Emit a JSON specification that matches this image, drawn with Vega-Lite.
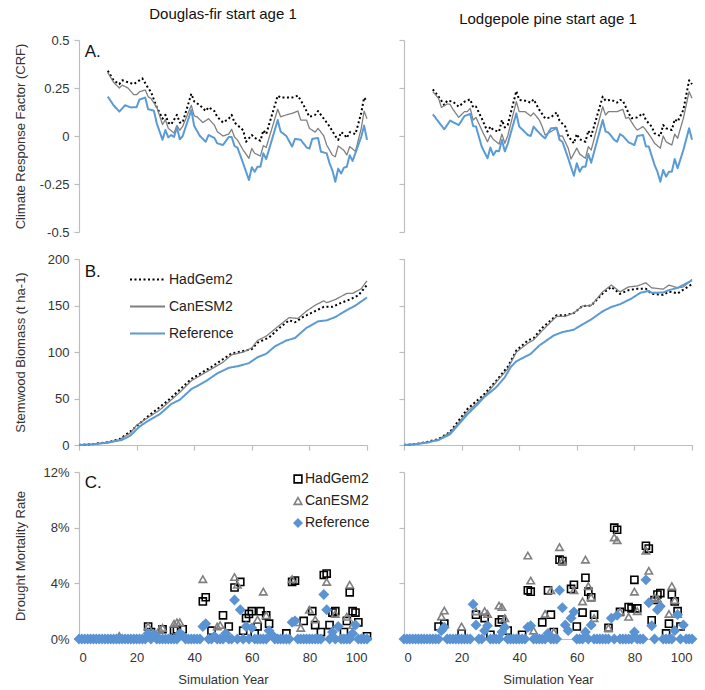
{
"$schema": "https://vega.github.io/schema/vega-lite/v6.json",
"background": "white",
"padding": {"left": 13, "top": 7, "right": 0, "bottom": 0},
"config": {
  "font": "Liberation Sans",
  "view": {"stroke": null},
  "axis": {"grid": false, "domainColor": "#bdbdbd", "tickColor": "#bdbdbd", "domainWidth": 1.2, "tickWidth": 1.2, "tickSize": 5, "labelFontSize": 13, "labelColor": "#333", "titleFontSize": 13, "titleFontWeight": "normal", "titleColor": "#333", "labelPadding": 5},
  "title": {"fontSize": 15, "fontWeight": "normal", "color": "#111", "offset": 12}
},
"datasets": {
"crf": [
{"sp":"DF","m":"HadGem2","yr":10,"v":0.34},{"sp":"DF","m":"HadGem2","yr":12,"v":0.29},{"sp":"DF","m":"HadGem2","yr":14,"v":0.27},{"sp":"DF","m":"HadGem2","yr":15,"v":0.29},{"sp":"DF","m":"HadGem2","yr":17,"v":0.28},{"sp":"DF","m":"HadGem2","yr":19,"v":0.27},{"sp":"DF","m":"HadGem2","yr":21,"v":0.29},{"sp":"DF","m":"HadGem2","yr":22,"v":0.3},{"sp":"DF","m":"HadGem2","yr":24,"v":0.25},{"sp":"DF","m":"HadGem2","yr":25,"v":0.23},{"sp":"DF","m":"HadGem2","yr":27,"v":0.15},{"sp":"DF","m":"HadGem2","yr":29,"v":0.09},{"sp":"DF","m":"HadGem2","yr":30,"v":0.11},{"sp":"DF","m":"HadGem2","yr":31,"v":0.07},{"sp":"DF","m":"HadGem2","yr":32,"v":0.06},{"sp":"DF","m":"HadGem2","yr":34,"v":0.11},{"sp":"DF","m":"HadGem2","yr":35,"v":0.07},{"sp":"DF","m":"HadGem2","yr":36,"v":0.07},{"sp":"DF","m":"HadGem2","yr":39,"v":0.22},{"sp":"DF","m":"HadGem2","yr":40,"v":0.18},{"sp":"DF","m":"HadGem2","yr":42,"v":0.16},{"sp":"DF","m":"HadGem2","yr":44,"v":0.13},{"sp":"DF","m":"HadGem2","yr":45,"v":0.15},{"sp":"DF","m":"HadGem2","yr":47,"v":0.13},{"sp":"DF","m":"HadGem2","yr":48,"v":0.1},{"sp":"DF","m":"HadGem2","yr":50,"v":0.07},{"sp":"DF","m":"HadGem2","yr":52,"v":0.09},{"sp":"DF","m":"HadGem2","yr":53,"v":0.11},{"sp":"DF","m":"HadGem2","yr":54,"v":0.07},{"sp":"DF","m":"HadGem2","yr":57,"v":0.03},{"sp":"DF","m":"HadGem2","yr":58,"v":-0.03},{"sp":"DF","m":"HadGem2","yr":60,"v":0.005},{"sp":"DF","m":"HadGem2","yr":61,"v":-0.01},{"sp":"DF","m":"HadGem2","yr":63,"v":-0.025},{"sp":"DF","m":"HadGem2","yr":64,"v":0.03},{"sp":"DF","m":"HadGem2","yr":65,"v":0.01},{"sp":"DF","m":"HadGem2","yr":69,"v":0.21},{"sp":"DF","m":"HadGem2","yr":70,"v":0.2},{"sp":"DF","m":"HadGem2","yr":72,"v":0.2},{"sp":"DF","m":"HadGem2","yr":74,"v":0.2},{"sp":"DF","m":"HadGem2","yr":76,"v":0.21},{"sp":"DF","m":"HadGem2","yr":78,"v":0.16},{"sp":"DF","m":"HadGem2","yr":80,"v":0.1},{"sp":"DF","m":"HadGem2","yr":82,"v":0.11},{"sp":"DF","m":"HadGem2","yr":83,"v":0.13},{"sp":"DF","m":"HadGem2","yr":85,"v":0.09},{"sp":"DF","m":"HadGem2","yr":87,"v":0.05},{"sp":"DF","m":"HadGem2","yr":89,"v":0.0},{"sp":"DF","m":"HadGem2","yr":90,"v":-0.02},{"sp":"DF","m":"HadGem2","yr":91,"v":0.02},{"sp":"DF","m":"HadGem2","yr":92,"v":0.01},{"sp":"DF","m":"HadGem2","yr":93,"v":-0.01},{"sp":"DF","m":"HadGem2","yr":94,"v":0.02},{"sp":"DF","m":"HadGem2","yr":96,"v":0.01},{"sp":"DF","m":"HadGem2","yr":98,"v":0.12},{"sp":"DF","m":"HadGem2","yr":99,"v":0.2},{"sp":"DF","m":"HadGem2","yr":100,"v":0.18},
{"sp":"DF","m":"CanESM2","yr":10,"v":0.33},{"sp":"DF","m":"CanESM2","yr":12,"v":0.28},{"sp":"DF","m":"CanESM2","yr":14,"v":0.25},{"sp":"DF","m":"CanESM2","yr":15,"v":0.265},{"sp":"DF","m":"CanESM2","yr":17,"v":0.25},{"sp":"DF","m":"CanESM2","yr":19,"v":0.215},{"sp":"DF","m":"CanESM2","yr":20,"v":0.215},{"sp":"DF","m":"CanESM2","yr":21,"v":0.23},{"sp":"DF","m":"CanESM2","yr":23,"v":0.24},{"sp":"DF","m":"CanESM2","yr":24,"v":0.205},{"sp":"DF","m":"CanESM2","yr":25,"v":0.195},{"sp":"DF","m":"CanESM2","yr":27,"v":0.15},{"sp":"DF","m":"CanESM2","yr":29,"v":0.06},{"sp":"DF","m":"CanESM2","yr":30,"v":0.085},{"sp":"DF","m":"CanESM2","yr":31,"v":0.04},{"sp":"DF","m":"CanESM2","yr":33,"v":0.015},{"sp":"DF","m":"CanESM2","yr":34,"v":0.055},{"sp":"DF","m":"CanESM2","yr":35,"v":0.03},{"sp":"DF","m":"CanESM2","yr":36,"v":0.05},{"sp":"DF","m":"CanESM2","yr":39,"v":0.16},{"sp":"DF","m":"CanESM2","yr":40,"v":0.105},{"sp":"DF","m":"CanESM2","yr":41,"v":0.1},{"sp":"DF","m":"CanESM2","yr":43,"v":0.07},{"sp":"DF","m":"CanESM2","yr":44,"v":0.08},{"sp":"DF","m":"CanESM2","yr":45,"v":0.09},{"sp":"DF","m":"CanESM2","yr":47,"v":0.057},{"sp":"DF","m":"CanESM2","yr":48,"v":0.023},{"sp":"DF","m":"CanESM2","yr":50,"v":0.0},{"sp":"DF","m":"CanESM2","yr":52,"v":0.01},{"sp":"DF","m":"CanESM2","yr":53,"v":0.035},{"sp":"DF","m":"CanESM2","yr":54,"v":-0.005},{"sp":"DF","m":"CanESM2","yr":55,"v":-0.02},{"sp":"DF","m":"CanESM2","yr":57,"v":-0.073},{"sp":"DF","m":"CanESM2","yr":59,"v":-0.116},{"sp":"DF","m":"CanESM2","yr":60,"v":-0.065},{"sp":"DF","m":"CanESM2","yr":61,"v":-0.09},{"sp":"DF","m":"CanESM2","yr":63,"v":-0.104},{"sp":"DF","m":"CanESM2","yr":64,"v":-0.05},{"sp":"DF","m":"CanESM2","yr":65,"v":-0.06},{"sp":"DF","m":"CanESM2","yr":69,"v":0.14},{"sp":"DF","m":"CanESM2","yr":70,"v":0.1},{"sp":"DF","m":"CanESM2","yr":72,"v":0.11},{"sp":"DF","m":"CanESM2","yr":74,"v":0.118},{"sp":"DF","m":"CanESM2","yr":76,"v":0.13},{"sp":"DF","m":"CanESM2","yr":77,"v":0.083},{"sp":"DF","m":"CanESM2","yr":79,"v":0.083},{"sp":"DF","m":"CanESM2","yr":80,"v":0.04},{"sp":"DF","m":"CanESM2","yr":82,"v":0.02},{"sp":"DF","m":"CanESM2","yr":83,"v":0.04},{"sp":"DF","m":"CanESM2","yr":85,"v":0.0},{"sp":"DF","m":"CanESM2","yr":86,"v":-0.047},{"sp":"DF","m":"CanESM2","yr":88,"v":-0.1},{"sp":"DF","m":"CanESM2","yr":89,"v":-0.108},{"sp":"DF","m":"CanESM2","yr":90,"v":-0.052},{"sp":"DF","m":"CanESM2","yr":92,"v":-0.075},{"sp":"DF","m":"CanESM2","yr":93,"v":-0.099},{"sp":"DF","m":"CanESM2","yr":94,"v":-0.055},{"sp":"DF","m":"CanESM2","yr":96,"v":-0.08},{"sp":"DF","m":"CanESM2","yr":98,"v":0.04},{"sp":"DF","m":"CanESM2","yr":99,"v":0.13},{"sp":"DF","m":"CanESM2","yr":100,"v":0.09},
{"sp":"DF","m":"Reference","yr":10,"v":0.205},{"sp":"DF","m":"Reference","yr":12,"v":0.16},{"sp":"DF","m":"Reference","yr":14,"v":0.127},{"sp":"DF","m":"Reference","yr":16,"v":0.16},{"sp":"DF","m":"Reference","yr":18,"v":0.149},{"sp":"DF","m":"Reference","yr":20,"v":0.15},{"sp":"DF","m":"Reference","yr":21,"v":0.19},{"sp":"DF","m":"Reference","yr":23,"v":0.2},{"sp":"DF","m":"Reference","yr":24,"v":0.139},{"sp":"DF","m":"Reference","yr":26,"v":0.132},{"sp":"DF","m":"Reference","yr":27,"v":0.066},{"sp":"DF","m":"Reference","yr":29,"v":-0.02},{"sp":"DF","m":"Reference","yr":30,"v":0.031},{"sp":"DF","m":"Reference","yr":31,"v":-0.007},{"sp":"DF","m":"Reference","yr":32,"v":0.005},{"sp":"DF","m":"Reference","yr":33,"v":-0.005},{"sp":"DF","m":"Reference","yr":34,"v":0.045},{"sp":"DF","m":"Reference","yr":35,"v":-0.017},{"sp":"DF","m":"Reference","yr":36,"v":0.0},{"sp":"DF","m":"Reference","yr":39,"v":0.135},{"sp":"DF","m":"Reference","yr":40,"v":0.052},{"sp":"DF","m":"Reference","yr":42,"v":0.0},{"sp":"DF","m":"Reference","yr":44,"v":-0.03},{"sp":"DF","m":"Reference","yr":45,"v":0.005},{"sp":"DF","m":"Reference","yr":47,"v":-0.01},{"sp":"DF","m":"Reference","yr":48,"v":-0.038},{"sp":"DF","m":"Reference","yr":50,"v":-0.047},{"sp":"DF","m":"Reference","yr":52,"v":-0.005},{"sp":"DF","m":"Reference","yr":53,"v":-0.005},{"sp":"DF","m":"Reference","yr":54,"v":-0.052},{"sp":"DF","m":"Reference","yr":55,"v":-0.06},{"sp":"DF","m":"Reference","yr":57,"v":-0.142},{"sp":"DF","m":"Reference","yr":59,"v":-0.229},{"sp":"DF","m":"Reference","yr":60,"v":-0.163},{"sp":"DF","m":"Reference","yr":61,"v":-0.186},{"sp":"DF","m":"Reference","yr":62,"v":-0.16},{"sp":"DF","m":"Reference","yr":63,"v":-0.16},{"sp":"DF","m":"Reference","yr":64,"v":-0.09},{"sp":"DF","m":"Reference","yr":65,"v":-0.12},{"sp":"DF","m":"Reference","yr":69,"v":0.083},{"sp":"DF","m":"Reference","yr":70,"v":0.023},{"sp":"DF","m":"Reference","yr":72,"v":0.0},{"sp":"DF","m":"Reference","yr":74,"v":-0.055},{"sp":"DF","m":"Reference","yr":75,"v":-0.015},{"sp":"DF","m":"Reference","yr":77,"v":-0.02},{"sp":"DF","m":"Reference","yr":79,"v":-0.059},{"sp":"DF","m":"Reference","yr":80,"v":-0.066},{"sp":"DF","m":"Reference","yr":81,"v":-0.015},{"sp":"DF","m":"Reference","yr":83,"v":-0.01},{"sp":"DF","m":"Reference","yr":84,"v":-0.082},{"sp":"DF","m":"Reference","yr":86,"v":-0.09},{"sp":"DF","m":"Reference","yr":87,"v":-0.142},{"sp":"DF","m":"Reference","yr":88,"v":-0.18},{"sp":"DF","m":"Reference","yr":89,"v":-0.238},{"sp":"DF","m":"Reference","yr":90,"v":-0.17},{"sp":"DF","m":"Reference","yr":91,"v":-0.195},{"sp":"DF","m":"Reference","yr":92,"v":-0.165},{"sp":"DF","m":"Reference","yr":93,"v":-0.16},{"sp":"DF","m":"Reference","yr":94,"v":-0.1},{"sp":"DF","m":"Reference","yr":95,"v":-0.13},{"sp":"DF","m":"Reference","yr":98,"v":-0.004},{"sp":"DF","m":"Reference","yr":99,"v":0.054},{"sp":"DF","m":"Reference","yr":100,"v":-0.02},
{"sp":"LP","m":"HadGem2","yr":10,"v":0.243},{"sp":"LP","m":"HadGem2","yr":12,"v":0.205},{"sp":"LP","m":"HadGem2","yr":14,"v":0.161},{"sp":"LP","m":"HadGem2","yr":15,"v":0.184},{"sp":"LP","m":"HadGem2","yr":17,"v":0.179},{"sp":"LP","m":"HadGem2","yr":19,"v":0.153},{"sp":"LP","m":"HadGem2","yr":21,"v":0.179},{"sp":"LP","m":"HadGem2","yr":23,"v":0.191},{"sp":"LP","m":"HadGem2","yr":24,"v":0.149},{"sp":"LP","m":"HadGem2","yr":25,"v":0.153},{"sp":"LP","m":"HadGem2","yr":27,"v":0.092},{"sp":"LP","m":"HadGem2","yr":29,"v":0.023},{"sp":"LP","m":"HadGem2","yr":30,"v":0.049},{"sp":"LP","m":"HadGem2","yr":31,"v":0.031},{"sp":"LP","m":"HadGem2","yr":33,"v":0.023},{"sp":"LP","m":"HadGem2","yr":34,"v":0.083},{"sp":"LP","m":"HadGem2","yr":35,"v":0.045},{"sp":"LP","m":"HadGem2","yr":36,"v":0.057},{"sp":"LP","m":"HadGem2","yr":39,"v":0.234},{"sp":"LP","m":"HadGem2","yr":40,"v":0.188},{"sp":"LP","m":"HadGem2","yr":42,"v":0.184},{"sp":"LP","m":"HadGem2","yr":44,"v":0.174},{"sp":"LP","m":"HadGem2","yr":45,"v":0.191},{"sp":"LP","m":"HadGem2","yr":47,"v":0.136},{"sp":"LP","m":"HadGem2","yr":49,"v":0.092},{"sp":"LP","m":"HadGem2","yr":51,"v":0.097},{"sp":"LP","m":"HadGem2","yr":53,"v":0.123},{"sp":"LP","m":"HadGem2","yr":54,"v":0.08},{"sp":"LP","m":"HadGem2","yr":56,"v":0.049},{"sp":"LP","m":"HadGem2","yr":57,"v":0.0},{"sp":"LP","m":"HadGem2","yr":59,"v":-0.038},{"sp":"LP","m":"HadGem2","yr":60,"v":0.01},{"sp":"LP","m":"HadGem2","yr":61,"v":-0.017},{"sp":"LP","m":"HadGem2","yr":63,"v":-0.03},{"sp":"LP","m":"HadGem2","yr":64,"v":0.028},{"sp":"LP","m":"HadGem2","yr":65,"v":0.0},{"sp":"LP","m":"HadGem2","yr":69,"v":0.205},{"sp":"LP","m":"HadGem2","yr":70,"v":0.184},{"sp":"LP","m":"HadGem2","yr":72,"v":0.188},{"sp":"LP","m":"HadGem2","yr":74,"v":0.174},{"sp":"LP","m":"HadGem2","yr":75,"v":0.188},{"sp":"LP","m":"HadGem2","yr":76,"v":0.184},{"sp":"LP","m":"HadGem2","yr":78,"v":0.118},{"sp":"LP","m":"HadGem2","yr":79,"v":0.092},{"sp":"LP","m":"HadGem2","yr":81,"v":0.097},{"sp":"LP","m":"HadGem2","yr":83,"v":0.118},{"sp":"LP","m":"HadGem2","yr":84,"v":0.083},{"sp":"LP","m":"HadGem2","yr":86,"v":0.049},{"sp":"LP","m":"HadGem2","yr":87,"v":0.014},{"sp":"LP","m":"HadGem2","yr":89,"v":0.0},{"sp":"LP","m":"HadGem2","yr":90,"v":0.057},{"sp":"LP","m":"HadGem2","yr":91,"v":0.04},{"sp":"LP","m":"HadGem2","yr":93,"v":0.031},{"sp":"LP","m":"HadGem2","yr":94,"v":0.087},{"sp":"LP","m":"HadGem2","yr":95,"v":0.075},{"sp":"LP","m":"HadGem2","yr":97,"v":0.136},{"sp":"LP","m":"HadGem2","yr":99,"v":0.29},{"sp":"LP","m":"HadGem2","yr":100,"v":0.27},
{"sp":"LP","m":"CanESM2","yr":10,"v":0.231},{"sp":"LP","m":"CanESM2","yr":12,"v":0.196},{"sp":"LP","m":"CanESM2","yr":13,"v":0.149},{"sp":"LP","m":"CanESM2","yr":15,"v":0.167},{"sp":"LP","m":"CanESM2","yr":16,"v":0.165},{"sp":"LP","m":"CanESM2","yr":17,"v":0.139},{"sp":"LP","m":"CanESM2","yr":19,"v":0.097},{"sp":"LP","m":"CanESM2","yr":21,"v":0.127},{"sp":"LP","m":"CanESM2","yr":22,"v":0.127},{"sp":"LP","m":"CanESM2","yr":23,"v":0.144},{"sp":"LP","m":"CanESM2","yr":24,"v":0.083},{"sp":"LP","m":"CanESM2","yr":25,"v":0.097},{"sp":"LP","m":"CanESM2","yr":27,"v":0.031},{"sp":"LP","m":"CanESM2","yr":29,"v":-0.03},{"sp":"LP","m":"CanESM2","yr":30,"v":0.005},{"sp":"LP","m":"CanESM2","yr":31,"v":-0.017},{"sp":"LP","m":"CanESM2","yr":33,"v":-0.042},{"sp":"LP","m":"CanESM2","yr":34,"v":0.01},{"sp":"LP","m":"CanESM2","yr":35,"v":-0.038},{"sp":"LP","m":"CanESM2","yr":36,"v":0.0},{"sp":"LP","m":"CanESM2","yr":39,"v":0.179},{"sp":"LP","m":"CanESM2","yr":40,"v":0.127},{"sp":"LP","m":"CanESM2","yr":42,"v":0.127},{"sp":"LP","m":"CanESM2","yr":44,"v":0.104},{"sp":"LP","m":"CanESM2","yr":45,"v":0.12},{"sp":"LP","m":"CanESM2","yr":47,"v":0.083},{"sp":"LP","m":"CanESM2","yr":48,"v":0.049},{"sp":"LP","m":"CanESM2","yr":49,"v":0.005},{"sp":"LP","m":"CanESM2","yr":51,"v":0.023},{"sp":"LP","m":"CanESM2","yr":53,"v":0.04},{"sp":"LP","m":"CanESM2","yr":54,"v":0.0},{"sp":"LP","m":"CanESM2","yr":55,"v":0.0},{"sp":"LP","m":"CanESM2","yr":57,"v":-0.063},{"sp":"LP","m":"CanESM2","yr":58,"v":-0.12},{"sp":"LP","m":"CanESM2","yr":60,"v":-0.063},{"sp":"LP","m":"CanESM2","yr":61,"v":-0.094},{"sp":"LP","m":"CanESM2","yr":63,"v":-0.116},{"sp":"LP","m":"CanESM2","yr":64,"v":-0.055},{"sp":"LP","m":"CanESM2","yr":65,"v":-0.073},{"sp":"LP","m":"CanESM2","yr":69,"v":0.153},{"sp":"LP","m":"CanESM2","yr":70,"v":0.109},{"sp":"LP","m":"CanESM2","yr":71,"v":0.127},{"sp":"LP","m":"CanESM2","yr":74,"v":0.127},{"sp":"LP","m":"CanESM2","yr":76,"v":0.139},{"sp":"LP","m":"CanESM2","yr":77,"v":0.092},{"sp":"LP","m":"CanESM2","yr":78,"v":0.097},{"sp":"LP","m":"CanESM2","yr":80,"v":0.049},{"sp":"LP","m":"CanESM2","yr":81,"v":0.031},{"sp":"LP","m":"CanESM2","yr":83,"v":0.049},{"sp":"LP","m":"CanESM2","yr":84,"v":0.031},{"sp":"LP","m":"CanESM2","yr":86,"v":-0.012},{"sp":"LP","m":"CanESM2","yr":87,"v":-0.038},{"sp":"LP","m":"CanESM2","yr":89,"v":-0.063},{"sp":"LP","m":"CanESM2","yr":90,"v":0.0},{"sp":"LP","m":"CanESM2","yr":91,"v":-0.03},{"sp":"LP","m":"CanESM2","yr":93,"v":-0.047},{"sp":"LP","m":"CanESM2","yr":94,"v":0.01},{"sp":"LP","m":"CanESM2","yr":95,"v":-0.012},{"sp":"LP","m":"CanESM2","yr":97,"v":0.092},{"sp":"LP","m":"CanESM2","yr":99,"v":0.231},{"sp":"LP","m":"CanESM2","yr":100,"v":0.196},
{"sp":"LP","m":"Reference","yr":10,"v":0.113},{"sp":"LP","m":"Reference","yr":14,"v":0.035},{"sp":"LP","m":"Reference","yr":16,"v":0.08},{"sp":"LP","m":"Reference","yr":19,"v":0.057},{"sp":"LP","m":"Reference","yr":21,"v":0.104},{"sp":"LP","m":"Reference","yr":23,"v":0.115},{"sp":"LP","m":"Reference","yr":24,"v":0.052},{"sp":"LP","m":"Reference","yr":25,"v":0.049},{"sp":"LP","m":"Reference","yr":27,"v":-0.056},{"sp":"LP","m":"Reference","yr":29,"v":-0.116},{"sp":"LP","m":"Reference","yr":30,"v":-0.06},{"sp":"LP","m":"Reference","yr":31,"v":-0.1},{"sp":"LP","m":"Reference","yr":32,"v":-0.077},{"sp":"LP","m":"Reference","yr":33,"v":-0.08},{"sp":"LP","m":"Reference","yr":34,"v":-0.021},{"sp":"LP","m":"Reference","yr":35,"v":-0.08},{"sp":"LP","m":"Reference","yr":36,"v":-0.042},{"sp":"LP","m":"Reference","yr":39,"v":0.118},{"sp":"LP","m":"Reference","yr":40,"v":0.049},{"sp":"LP","m":"Reference","yr":41,"v":0.035},{"sp":"LP","m":"Reference","yr":43,"v":0.005},{"sp":"LP","m":"Reference","yr":44,"v":0.0},{"sp":"LP","m":"Reference","yr":45,"v":0.049},{"sp":"LP","m":"Reference","yr":46,"v":0.031},{"sp":"LP","m":"Reference","yr":48,"v":0.0},{"sp":"LP","m":"Reference","yr":49,"v":-0.012},{"sp":"LP","m":"Reference","yr":51,"v":0.04},{"sp":"LP","m":"Reference","yr":53,"v":0.043},{"sp":"LP","m":"Reference","yr":54,"v":-0.02},{"sp":"LP","m":"Reference","yr":55,"v":-0.03},{"sp":"LP","m":"Reference","yr":57,"v":-0.116},{"sp":"LP","m":"Reference","yr":59,"v":-0.207},{"sp":"LP","m":"Reference","yr":60,"v":-0.142},{"sp":"LP","m":"Reference","yr":61,"v":-0.186},{"sp":"LP","m":"Reference","yr":62,"v":-0.16},{"sp":"LP","m":"Reference","yr":63,"v":-0.16},{"sp":"LP","m":"Reference","yr":64,"v":-0.094},{"sp":"LP","m":"Reference","yr":65,"v":-0.139},{"sp":"LP","m":"Reference","yr":69,"v":0.083},{"sp":"LP","m":"Reference","yr":70,"v":0.023},{"sp":"LP","m":"Reference","yr":71,"v":0.018},{"sp":"LP","m":"Reference","yr":73,"v":-0.02},{"sp":"LP","m":"Reference","yr":74,"v":-0.03},{"sp":"LP","m":"Reference","yr":75,"v":0.01},{"sp":"LP","m":"Reference","yr":76,"v":0.0},{"sp":"LP","m":"Reference","yr":78,"v":-0.033},{"sp":"LP","m":"Reference","yr":80,"v":-0.047},{"sp":"LP","m":"Reference","yr":81,"v":0.0},{"sp":"LP","m":"Reference","yr":83,"v":0.005},{"sp":"LP","m":"Reference","yr":84,"v":-0.055},{"sp":"LP","m":"Reference","yr":85,"v":-0.055},{"sp":"LP","m":"Reference","yr":87,"v":-0.151},{"sp":"LP","m":"Reference","yr":88,"v":-0.186},{"sp":"LP","m":"Reference","yr":89,"v":-0.238},{"sp":"LP","m":"Reference","yr":90,"v":-0.177},{"sp":"LP","m":"Reference","yr":91,"v":-0.212},{"sp":"LP","m":"Reference","yr":92,"v":-0.186},{"sp":"LP","m":"Reference","yr":93,"v":-0.186},{"sp":"LP","m":"Reference","yr":94,"v":-0.12},{"sp":"LP","m":"Reference","yr":95,"v":-0.168},{"sp":"LP","m":"Reference","yr":97,"v":-0.073},{"sp":"LP","m":"Reference","yr":99,"v":0.04},{"sp":"LP","m":"Reference","yr":100,"v":-0.02}
],
"bio": [
{"sp":"DF","m":"HadGem2","yr":0,"v":0},{"sp":"DF","m":"HadGem2","yr":5,"v":1},{"sp":"DF","m":"HadGem2","yr":10,"v":3},{"sp":"DF","m":"HadGem2","yr":14,"v":6},{"sp":"DF","m":"HadGem2","yr":18,"v":15},{"sp":"DF","m":"HadGem2","yr":24,"v":31},{"sp":"DF","m":"HadGem2","yr":31,"v":48},{"sp":"DF","m":"HadGem2","yr":39,"v":71},{"sp":"DF","m":"HadGem2","yr":46,"v":84},{"sp":"DF","m":"HadGem2","yr":53,"v":98.5},{"sp":"DF","m":"HadGem2","yr":57,"v":101},{"sp":"DF","m":"HadGem2","yr":60,"v":103},{"sp":"DF","m":"HadGem2","yr":62,"v":110},{"sp":"DF","m":"HadGem2","yr":66,"v":115.6},{"sp":"DF","m":"HadGem2","yr":70,"v":127},{"sp":"DF","m":"HadGem2","yr":73,"v":134},{"sp":"DF","m":"HadGem2","yr":75,"v":132},{"sp":"DF","m":"HadGem2","yr":78,"v":138},{"sp":"DF","m":"HadGem2","yr":82,"v":144},{"sp":"DF","m":"HadGem2","yr":85,"v":148.6},{"sp":"DF","m":"HadGem2","yr":88,"v":148.6},{"sp":"DF","m":"HadGem2","yr":91,"v":152.8},{"sp":"DF","m":"HadGem2","yr":94,"v":156.4},{"sp":"DF","m":"HadGem2","yr":97,"v":161},{"sp":"DF","m":"HadGem2","yr":100,"v":172},
{"sp":"DF","m":"CanESM2","yr":0,"v":0},{"sp":"DF","m":"CanESM2","yr":5,"v":0.9},{"sp":"DF","m":"CanESM2","yr":10,"v":3},{"sp":"DF","m":"CanESM2","yr":14,"v":5.5},{"sp":"DF","m":"CanESM2","yr":18,"v":13.3},{"sp":"DF","m":"CanESM2","yr":20,"v":21.3},{"sp":"DF","m":"CanESM2","yr":24,"v":29.5},{"sp":"DF","m":"CanESM2","yr":28,"v":37.5},{"sp":"DF","m":"CanESM2","yr":31,"v":45.7},{"sp":"DF","m":"CanESM2","yr":35,"v":56.6},{"sp":"DF","m":"CanESM2","yr":39,"v":69},{"sp":"DF","m":"CanESM2","yr":43,"v":76.4},{"sp":"DF","m":"CanESM2","yr":46,"v":81.8},{"sp":"DF","m":"CanESM2","yr":50,"v":89},{"sp":"DF","m":"CanESM2","yr":53,"v":97},{"sp":"DF","m":"CanESM2","yr":57,"v":99.8},{"sp":"DF","m":"CanESM2","yr":60,"v":104.5},{"sp":"DF","m":"CanESM2","yr":62,"v":112.4},{"sp":"DF","m":"CanESM2","yr":65,"v":117},{"sp":"DF","m":"CanESM2","yr":70,"v":129.7},{"sp":"DF","m":"CanESM2","yr":73,"v":137},{"sp":"DF","m":"CanESM2","yr":76,"v":136},{"sp":"DF","m":"CanESM2","yr":79,"v":144},{"sp":"DF","m":"CanESM2","yr":82,"v":150.3},{"sp":"DF","m":"CanESM2","yr":85,"v":155},{"sp":"DF","m":"CanESM2","yr":86,"v":153},{"sp":"DF","m":"CanESM2","yr":89,"v":156.4},{"sp":"DF","m":"CanESM2","yr":93,"v":163},{"sp":"DF","m":"CanESM2","yr":95,"v":163},{"sp":"DF","m":"CanESM2","yr":98,"v":168},{"sp":"DF","m":"CanESM2","yr":100,"v":176.6},
{"sp":"DF","m":"Reference","yr":0,"v":0},{"sp":"DF","m":"Reference","yr":5,"v":0.8},{"sp":"DF","m":"Reference","yr":10,"v":2.5},{"sp":"DF","m":"Reference","yr":15,"v":5.5},{"sp":"DF","m":"Reference","yr":18,"v":10.5},{"sp":"DF","m":"Reference","yr":21,"v":19.8},{"sp":"DF","m":"Reference","yr":24,"v":26},{"sp":"DF","m":"Reference","yr":28,"v":33},{"sp":"DF","m":"Reference","yr":32,"v":44},{"sp":"DF","m":"Reference","yr":35,"v":48.6},{"sp":"DF","m":"Reference","yr":39,"v":60},{"sp":"DF","m":"Reference","yr":44,"v":68.5},{"sp":"DF","m":"Reference","yr":48,"v":77},{"sp":"DF","m":"Reference","yr":52,"v":83},{"sp":"DF","m":"Reference","yr":55,"v":84.7},{"sp":"DF","m":"Reference","yr":59,"v":88},{"sp":"DF","m":"Reference","yr":62,"v":94.4},{"sp":"DF","m":"Reference","yr":65,"v":98},{"sp":"DF","m":"Reference","yr":68,"v":106},{"sp":"DF","m":"Reference","yr":72,"v":112.4},{"sp":"DF","m":"Reference","yr":75,"v":115},{"sp":"DF","m":"Reference","yr":79,"v":126},{"sp":"DF","m":"Reference","yr":83,"v":133},{"sp":"DF","m":"Reference","yr":86,"v":134},{"sp":"DF","m":"Reference","yr":89,"v":137.6},{"sp":"DF","m":"Reference","yr":93,"v":145},{"sp":"DF","m":"Reference","yr":96,"v":150},{"sp":"DF","m":"Reference","yr":100,"v":158.6},
{"sp":"LP","m":"HadGem2","yr":0,"v":0},{"sp":"LP","m":"HadGem2","yr":4,"v":1},{"sp":"LP","m":"HadGem2","yr":8,"v":3.2},{"sp":"LP","m":"HadGem2","yr":12,"v":6.5},{"sp":"LP","m":"HadGem2","yr":16,"v":14},{"sp":"LP","m":"HadGem2","yr":22,"v":38.6},{"sp":"LP","m":"HadGem2","yr":28,"v":55},{"sp":"LP","m":"HadGem2","yr":32,"v":69},{"sp":"LP","m":"HadGem2","yr":36,"v":84},{"sp":"LP","m":"HadGem2","yr":39,"v":101.6},{"sp":"LP","m":"HadGem2","yr":43,"v":112.4},{"sp":"LP","m":"HadGem2","yr":45,"v":115},{"sp":"LP","m":"HadGem2","yr":48,"v":126},{"sp":"LP","m":"HadGem2","yr":53,"v":139.5},{"sp":"LP","m":"HadGem2","yr":56,"v":139.5},{"sp":"LP","m":"HadGem2","yr":59,"v":142},{"sp":"LP","m":"HadGem2","yr":62,"v":149.5},{"sp":"LP","m":"HadGem2","yr":65,"v":150},{"sp":"LP","m":"HadGem2","yr":69,"v":163},{"sp":"LP","m":"HadGem2","yr":72,"v":170},{"sp":"LP","m":"HadGem2","yr":75,"v":162.5},{"sp":"LP","m":"HadGem2","yr":78,"v":166.5},{"sp":"LP","m":"HadGem2","yr":81,"v":168},{"sp":"LP","m":"HadGem2","yr":84,"v":168},{"sp":"LP","m":"HadGem2","yr":86,"v":162.5},{"sp":"LP","m":"HadGem2","yr":90,"v":161.5},{"sp":"LP","m":"HadGem2","yr":92,"v":165},{"sp":"LP","m":"HadGem2","yr":95,"v":163},{"sp":"LP","m":"HadGem2","yr":100,"v":173},
{"sp":"LP","m":"CanESM2","yr":0,"v":0},{"sp":"LP","m":"CanESM2","yr":4,"v":0.9},{"sp":"LP","m":"CanESM2","yr":8,"v":3},{"sp":"LP","m":"CanESM2","yr":12,"v":6},{"sp":"LP","m":"CanESM2","yr":16,"v":13.3},{"sp":"LP","m":"CanESM2","yr":19,"v":24},{"sp":"LP","m":"CanESM2","yr":22,"v":36},{"sp":"LP","m":"CanESM2","yr":25,"v":44},{"sp":"LP","m":"CanESM2","yr":28,"v":53},{"sp":"LP","m":"CanESM2","yr":32,"v":67.4},{"sp":"LP","m":"CanESM2","yr":36,"v":81.8},{"sp":"LP","m":"CanESM2","yr":39,"v":99.8},{"sp":"LP","m":"CanESM2","yr":43,"v":109.5},{"sp":"LP","m":"CanESM2","yr":45,"v":113},{"sp":"LP","m":"CanESM2","yr":48,"v":123},{"sp":"LP","m":"CanESM2","yr":53,"v":138.4},{"sp":"LP","m":"CanESM2","yr":56,"v":138.4},{"sp":"LP","m":"CanESM2","yr":59,"v":142},{"sp":"LP","m":"CanESM2","yr":62,"v":149.5},{"sp":"LP","m":"CanESM2","yr":65,"v":150},{"sp":"LP","m":"CanESM2","yr":69,"v":164.7},{"sp":"LP","m":"CanESM2","yr":72,"v":172},{"sp":"LP","m":"CanESM2","yr":75,"v":164.7},{"sp":"LP","m":"CanESM2","yr":78,"v":170},{"sp":"LP","m":"CanESM2","yr":81,"v":171},{"sp":"LP","m":"CanESM2","yr":84,"v":174.4},{"sp":"LP","m":"CanESM2","yr":86,"v":169},{"sp":"LP","m":"CanESM2","yr":90,"v":167.6},{"sp":"LP","m":"CanESM2","yr":92,"v":172},{"sp":"LP","m":"CanESM2","yr":95,"v":169},{"sp":"LP","m":"CanESM2","yr":97,"v":170},{"sp":"LP","m":"CanESM2","yr":100,"v":178},
{"sp":"LP","m":"Reference","yr":0,"v":0},{"sp":"LP","m":"Reference","yr":4,"v":0.8},{"sp":"LP","m":"Reference","yr":8,"v":2.5},{"sp":"LP","m":"Reference","yr":12,"v":5.4},{"sp":"LP","m":"Reference","yr":16,"v":11.5},{"sp":"LP","m":"Reference","yr":19,"v":22.3},{"sp":"LP","m":"Reference","yr":22,"v":33},{"sp":"LP","m":"Reference","yr":25,"v":42},{"sp":"LP","m":"Reference","yr":28,"v":52},{"sp":"LP","m":"Reference","yr":32,"v":62},{"sp":"LP","m":"Reference","yr":35,"v":72.8},{"sp":"LP","m":"Reference","yr":37,"v":83.6},{"sp":"LP","m":"Reference","yr":39,"v":90},{"sp":"LP","m":"Reference","yr":44,"v":98},{"sp":"LP","m":"Reference","yr":47,"v":107},{"sp":"LP","m":"Reference","yr":52,"v":117.8},{"sp":"LP","m":"Reference","yr":55,"v":121.4},{"sp":"LP","m":"Reference","yr":59,"v":124},{"sp":"LP","m":"Reference","yr":62,"v":129.7},{"sp":"LP","m":"Reference","yr":65,"v":135},{"sp":"LP","m":"Reference","yr":69,"v":143.8},{"sp":"LP","m":"Reference","yr":72,"v":148.4},{"sp":"LP","m":"Reference","yr":75,"v":151.4},{"sp":"LP","m":"Reference","yr":79,"v":157.5},{"sp":"LP","m":"Reference","yr":82,"v":163.6},{"sp":"LP","m":"Reference","yr":85,"v":165.7},{"sp":"LP","m":"Reference","yr":86,"v":163.6},{"sp":"LP","m":"Reference","yr":90,"v":164},{"sp":"LP","m":"Reference","yr":92,"v":166.5},{"sp":"LP","m":"Reference","yr":95,"v":169},{"sp":"LP","m":"Reference","yr":100,"v":177}
],
"mort": [
{"sp":"DF","m":"HadGem2","yr":24,"v":0.9},{"sp":"DF","m":"HadGem2","yr":25,"v":0.5},{"sp":"DF","m":"HadGem2","yr":29,"v":0.7},{"sp":"DF","m":"HadGem2","yr":33,"v":0.6},{"sp":"DF","m":"HadGem2","yr":34,"v":0.7},{"sp":"DF","m":"HadGem2","yr":36,"v":0.7},{"sp":"DF","m":"HadGem2","yr":43,"v":2.7},{"sp":"DF","m":"HadGem2","yr":44,"v":3.0},{"sp":"DF","m":"HadGem2","yr":46,"v":0.6},{"sp":"DF","m":"HadGem2","yr":50,"v":1.7},{"sp":"DF","m":"HadGem2","yr":52,"v":0.9},{"sp":"DF","m":"HadGem2","yr":54,"v":3.7},{"sp":"DF","m":"HadGem2","yr":56,"v":4.1},{"sp":"DF","m":"HadGem2","yr":57,"v":0.6},{"sp":"DF","m":"HadGem2","yr":58,"v":1.5},{"sp":"DF","m":"HadGem2","yr":59,"v":1.8},{"sp":"DF","m":"HadGem2","yr":60,"v":2.0},{"sp":"DF","m":"HadGem2","yr":61,"v":0.4},{"sp":"DF","m":"HadGem2","yr":62,"v":0.9},{"sp":"DF","m":"HadGem2","yr":63,"v":2.0},{"sp":"DF","m":"HadGem2","yr":65,"v":1.7},{"sp":"DF","m":"HadGem2","yr":66,"v":1.1},{"sp":"DF","m":"HadGem2","yr":72,"v":0.4},{"sp":"DF","m":"HadGem2","yr":74,"v":4.1},{"sp":"DF","m":"HadGem2","yr":75,"v":4.2},{"sp":"DF","m":"HadGem2","yr":78,"v":1.3},{"sp":"DF","m":"HadGem2","yr":81,"v":2.0},{"sp":"DF","m":"HadGem2","yr":82,"v":1.0},{"sp":"DF","m":"HadGem2","yr":84,"v":0.5},{"sp":"DF","m":"HadGem2","yr":85,"v":4.6},{"sp":"DF","m":"HadGem2","yr":86,"v":4.7},{"sp":"DF","m":"HadGem2","yr":87,"v":1.0},{"sp":"DF","m":"HadGem2","yr":88,"v":1.9},{"sp":"DF","m":"HadGem2","yr":89,"v":2.0},{"sp":"DF","m":"HadGem2","yr":92,"v":0.5},{"sp":"DF","m":"HadGem2","yr":93,"v":1.3},{"sp":"DF","m":"HadGem2","yr":94,"v":3.35},{"sp":"DF","m":"HadGem2","yr":95,"v":2.0},{"sp":"DF","m":"HadGem2","yr":96,"v":1.9},{"sp":"DF","m":"HadGem2","yr":97,"v":1.2},{"sp":"DF","m":"HadGem2","yr":100,"v":0.2},
{"sp":"DF","m":"CanESM2","yr":14,"v":0.22},{"sp":"DF","m":"CanESM2","yr":24,"v":0.9},{"sp":"DF","m":"CanESM2","yr":28,"v":0.7},{"sp":"DF","m":"CanESM2","yr":29,"v":0.8},{"sp":"DF","m":"CanESM2","yr":33,"v":1.1},{"sp":"DF","m":"CanESM2","yr":34,"v":1.2},{"sp":"DF","m":"CanESM2","yr":35,"v":1.2},{"sp":"DF","m":"CanESM2","yr":43,"v":4.3},{"sp":"DF","m":"CanESM2","yr":48,"v":0.9},{"sp":"DF","m":"CanESM2","yr":49,"v":1.0},{"sp":"DF","m":"CanESM2","yr":54,"v":4.45},{"sp":"DF","m":"CanESM2","yr":55,"v":3.9},{"sp":"DF","m":"CanESM2","yr":62,"v":1.4},{"sp":"DF","m":"CanESM2","yr":64,"v":3.4},{"sp":"DF","m":"CanESM2","yr":65,"v":1.7},{"sp":"DF","m":"CanESM2","yr":74,"v":4.3},{"sp":"DF","m":"CanESM2","yr":76,"v":1.2},{"sp":"DF","m":"CanESM2","yr":77,"v":0.8},{"sp":"DF","m":"CanESM2","yr":80,"v":2.1},{"sp":"DF","m":"CanESM2","yr":82,"v":1.4},{"sp":"DF","m":"CanESM2","yr":86,"v":4.1},{"sp":"DF","m":"CanESM2","yr":89,"v":1.8},{"sp":"DF","m":"CanESM2","yr":93,"v":1.6},{"sp":"DF","m":"CanESM2","yr":94,"v":3.9},{"sp":"DF","m":"CanESM2","yr":95,"v":1.0},
{"sp":"LP","m":"HadGem2","yr":12,"v":0.9},{"sp":"LP","m":"HadGem2","yr":14,"v":1.1},{"sp":"LP","m":"HadGem2","yr":20,"v":0.4},{"sp":"LP","m":"HadGem2","yr":25,"v":1.75},{"sp":"LP","m":"HadGem2","yr":28,"v":1.5},{"sp":"LP","m":"HadGem2","yr":30,"v":0.3},{"sp":"LP","m":"HadGem2","yr":33,"v":1.2},{"sp":"LP","m":"HadGem2","yr":34,"v":1.4},{"sp":"LP","m":"HadGem2","yr":36,"v":0.6},{"sp":"LP","m":"HadGem2","yr":41,"v":0.3},{"sp":"LP","m":"HadGem2","yr":43,"v":3.5},{"sp":"LP","m":"HadGem2","yr":44,"v":3.4},{"sp":"LP","m":"HadGem2","yr":48,"v":1.2},{"sp":"LP","m":"HadGem2","yr":50,"v":3.5},{"sp":"LP","m":"HadGem2","yr":51,"v":1.75},{"sp":"LP","m":"HadGem2","yr":52,"v":0.5},{"sp":"LP","m":"HadGem2","yr":54,"v":5.7},{"sp":"LP","m":"HadGem2","yr":55,"v":5.6},{"sp":"LP","m":"HadGem2","yr":58,"v":3.6},{"sp":"LP","m":"HadGem2","yr":59,"v":3.9},{"sp":"LP","m":"HadGem2","yr":60,"v":0.9},{"sp":"LP","m":"HadGem2","yr":62,"v":1.9},{"sp":"LP","m":"HadGem2","yr":63,"v":4.4},{"sp":"LP","m":"HadGem2","yr":64,"v":3.4},{"sp":"LP","m":"HadGem2","yr":65,"v":3.0},{"sp":"LP","m":"HadGem2","yr":66,"v":1.75},{"sp":"LP","m":"HadGem2","yr":71,"v":0.8},{"sp":"LP","m":"HadGem2","yr":73,"v":8.0},{"sp":"LP","m":"HadGem2","yr":74,"v":7.85},{"sp":"LP","m":"HadGem2","yr":75,"v":1.95},{"sp":"LP","m":"HadGem2","yr":78,"v":2.3},{"sp":"LP","m":"HadGem2","yr":79,"v":2.2},{"sp":"LP","m":"HadGem2","yr":80,"v":4.25},{"sp":"LP","m":"HadGem2","yr":81,"v":2.2},{"sp":"LP","m":"HadGem2","yr":84,"v":6.7},{"sp":"LP","m":"HadGem2","yr":85,"v":6.5},{"sp":"LP","m":"HadGem2","yr":86,"v":1.35},{"sp":"LP","m":"HadGem2","yr":87,"v":2.8},{"sp":"LP","m":"HadGem2","yr":88,"v":3.2},{"sp":"LP","m":"HadGem2","yr":89,"v":3.3},{"sp":"LP","m":"HadGem2","yr":91,"v":0.4},{"sp":"LP","m":"HadGem2","yr":92,"v":1.1},{"sp":"LP","m":"HadGem2","yr":93,"v":3.2},{"sp":"LP","m":"HadGem2","yr":94,"v":2.7},{"sp":"LP","m":"HadGem2","yr":95,"v":2.0},{"sp":"LP","m":"HadGem2","yr":96,"v":0.9},
{"sp":"LP","m":"CanESM2","yr":13,"v":1.62},{"sp":"LP","m":"CanESM2","yr":14,"v":2.04},{"sp":"LP","m":"CanESM2","yr":20,"v":0.9},{"sp":"LP","m":"CanESM2","yr":25,"v":1.98},{"sp":"LP","m":"CanESM2","yr":28,"v":2.0},{"sp":"LP","m":"CanESM2","yr":29,"v":1.8},{"sp":"LP","m":"CanESM2","yr":33,"v":2.4},{"sp":"LP","m":"CanESM2","yr":34,"v":2.3},{"sp":"LP","m":"CanESM2","yr":35,"v":1.5},{"sp":"LP","m":"CanESM2","yr":43,"v":6.0},{"sp":"LP","m":"CanESM2","yr":44,"v":4.2},{"sp":"LP","m":"CanESM2","yr":45,"v":0.6},{"sp":"LP","m":"CanESM2","yr":49,"v":1.8},{"sp":"LP","m":"CanESM2","yr":51,"v":3.5},{"sp":"LP","m":"CanESM2","yr":52,"v":0.5},{"sp":"LP","m":"CanESM2","yr":54,"v":6.6},{"sp":"LP","m":"CanESM2","yr":55,"v":5.6},{"sp":"LP","m":"CanESM2","yr":59,"v":3.5},{"sp":"LP","m":"CanESM2","yr":62,"v":2.7},{"sp":"LP","m":"CanESM2","yr":63,"v":5.7},{"sp":"LP","m":"CanESM2","yr":64,"v":3.8},{"sp":"LP","m":"CanESM2","yr":65,"v":3.0},{"sp":"LP","m":"CanESM2","yr":66,"v":1.5},{"sp":"LP","m":"CanESM2","yr":71,"v":0.8},{"sp":"LP","m":"CanESM2","yr":73,"v":7.3},{"sp":"LP","m":"CanESM2","yr":74,"v":7.1},{"sp":"LP","m":"CanESM2","yr":75,"v":1.95},{"sp":"LP","m":"CanESM2","yr":78,"v":1.6},{"sp":"LP","m":"CanESM2","yr":80,"v":3.4},{"sp":"LP","m":"CanESM2","yr":81,"v":2.0},{"sp":"LP","m":"CanESM2","yr":84,"v":6.35},{"sp":"LP","m":"CanESM2","yr":85,"v":4.9},{"sp":"LP","m":"CanESM2","yr":87,"v":3.0},{"sp":"LP","m":"CanESM2","yr":88,"v":2.9},{"sp":"LP","m":"CanESM2","yr":92,"v":1.8},{"sp":"LP","m":"CanESM2","yr":93,"v":3.8},{"sp":"LP","m":"CanESM2","yr":94,"v":2.8},{"sp":"LP","m":"CanESM2","yr":95,"v":1.8},
{"sp":"DF","m":"Reference","yr":0,"v":0},{"sp":"DF","m":"Reference","yr":1,"v":0},{"sp":"DF","m":"Reference","yr":2,"v":0},{"sp":"DF","m":"Reference","yr":3,"v":0},{"sp":"DF","m":"Reference","yr":4,"v":0},{"sp":"DF","m":"Reference","yr":5,"v":0},{"sp":"DF","m":"Reference","yr":6,"v":0},{"sp":"DF","m":"Reference","yr":7,"v":0},{"sp":"DF","m":"Reference","yr":8,"v":0},{"sp":"DF","m":"Reference","yr":9,"v":0},{"sp":"DF","m":"Reference","yr":10,"v":0},{"sp":"DF","m":"Reference","yr":11,"v":0},{"sp":"DF","m":"Reference","yr":12,"v":0},{"sp":"DF","m":"Reference","yr":13,"v":0},{"sp":"DF","m":"Reference","yr":14,"v":0},{"sp":"DF","m":"Reference","yr":15,"v":0},{"sp":"DF","m":"Reference","yr":16,"v":0},{"sp":"DF","m":"Reference","yr":17,"v":0},{"sp":"DF","m":"Reference","yr":18,"v":0},{"sp":"DF","m":"Reference","yr":19,"v":0},{"sp":"DF","m":"Reference","yr":20,"v":0},{"sp":"DF","m":"Reference","yr":21,"v":0},{"sp":"DF","m":"Reference","yr":22,"v":0},{"sp":"DF","m":"Reference","yr":23,"v":0},{"sp":"DF","m":"Reference","yr":24,"v":0.4},{"sp":"DF","m":"Reference","yr":25,"v":0},{"sp":"DF","m":"Reference","yr":26,"v":0.3},{"sp":"DF","m":"Reference","yr":27,"v":0},{"sp":"DF","m":"Reference","yr":28,"v":0},{"sp":"DF","m":"Reference","yr":29,"v":0},{"sp":"DF","m":"Reference","yr":30,"v":0},{"sp":"DF","m":"Reference","yr":31,"v":0},{"sp":"DF","m":"Reference","yr":32,"v":0},{"sp":"DF","m":"Reference","yr":33,"v":0},{"sp":"DF","m":"Reference","yr":34,"v":0},{"sp":"DF","m":"Reference","yr":35,"v":0.4},{"sp":"DF","m":"Reference","yr":36,"v":0.25},{"sp":"DF","m":"Reference","yr":37,"v":0},{"sp":"DF","m":"Reference","yr":38,"v":0},{"sp":"DF","m":"Reference","yr":39,"v":0},{"sp":"DF","m":"Reference","yr":40,"v":0},{"sp":"DF","m":"Reference","yr":41,"v":0},{"sp":"DF","m":"Reference","yr":42,"v":0},{"sp":"DF","m":"Reference","yr":43,"v":0.9},{"sp":"DF","m":"Reference","yr":44,"v":1.1},{"sp":"DF","m":"Reference","yr":45,"v":0},{"sp":"DF","m":"Reference","yr":46,"v":0},{"sp":"DF","m":"Reference","yr":47,"v":0.2},{"sp":"DF","m":"Reference","yr":48,"v":0},{"sp":"DF","m":"Reference","yr":49,"v":0},{"sp":"DF","m":"Reference","yr":50,"v":0},{"sp":"DF","m":"Reference","yr":51,"v":0.4},{"sp":"DF","m":"Reference","yr":52,"v":0},{"sp":"DF","m":"Reference","yr":53,"v":0},{"sp":"DF","m":"Reference","yr":54,"v":2.8},{"sp":"DF","m":"Reference","yr":55,"v":0},{"sp":"DF","m":"Reference","yr":56,"v":2.1},{"sp":"DF","m":"Reference","yr":57,"v":0},{"sp":"DF","m":"Reference","yr":58,"v":0.9},{"sp":"DF","m":"Reference","yr":59,"v":0},{"sp":"DF","m":"Reference","yr":60,"v":0.8},{"sp":"DF","m":"Reference","yr":61,"v":0},{"sp":"DF","m":"Reference","yr":62,"v":0},{"sp":"DF","m":"Reference","yr":63,"v":0},{"sp":"DF","m":"Reference","yr":64,"v":0},{"sp":"DF","m":"Reference","yr":65,"v":0},{"sp":"DF","m":"Reference","yr":66,"v":0.6},{"sp":"DF","m":"Reference","yr":67,"v":0.3},{"sp":"DF","m":"Reference","yr":68,"v":0},{"sp":"DF","m":"Reference","yr":69,"v":0},{"sp":"DF","m":"Reference","yr":70,"v":0},{"sp":"DF","m":"Reference","yr":71,"v":0},{"sp":"DF","m":"Reference","yr":72,"v":0},{"sp":"DF","m":"Reference","yr":73,"v":0},{"sp":"DF","m":"Reference","yr":74,"v":1.2},{"sp":"DF","m":"Reference","yr":75,"v":1.3},{"sp":"DF","m":"Reference","yr":76,"v":0},{"sp":"DF","m":"Reference","yr":77,"v":0},{"sp":"DF","m":"Reference","yr":78,"v":0},{"sp":"DF","m":"Reference","yr":79,"v":0},{"sp":"DF","m":"Reference","yr":80,"v":0},{"sp":"DF","m":"Reference","yr":81,"v":0},{"sp":"DF","m":"Reference","yr":82,"v":0},{"sp":"DF","m":"Reference","yr":83,"v":0},{"sp":"DF","m":"Reference","yr":84,"v":0},{"sp":"DF","m":"Reference","yr":85,"v":3.2},{"sp":"DF","m":"Reference","yr":86,"v":2.1},{"sp":"DF","m":"Reference","yr":87,"v":0},{"sp":"DF","m":"Reference","yr":88,"v":0.5},{"sp":"DF","m":"Reference","yr":89,"v":0},{"sp":"DF","m":"Reference","yr":90,"v":0.9},{"sp":"DF","m":"Reference","yr":91,"v":0},{"sp":"DF","m":"Reference","yr":92,"v":0},{"sp":"DF","m":"Reference","yr":93,"v":0},{"sp":"DF","m":"Reference","yr":94,"v":0},{"sp":"DF","m":"Reference","yr":95,"v":0.4},{"sp":"DF","m":"Reference","yr":96,"v":1.0},{"sp":"DF","m":"Reference","yr":97,"v":0},{"sp":"DF","m":"Reference","yr":98,"v":0},{"sp":"DF","m":"Reference","yr":99,"v":0},{"sp":"DF","m":"Reference","yr":100,"v":0},
{"sp":"LP","m":"Reference","yr":0,"v":0},{"sp":"LP","m":"Reference","yr":1,"v":0},{"sp":"LP","m":"Reference","yr":2,"v":0},{"sp":"LP","m":"Reference","yr":3,"v":0},{"sp":"LP","m":"Reference","yr":4,"v":0},{"sp":"LP","m":"Reference","yr":5,"v":0},{"sp":"LP","m":"Reference","yr":6,"v":0},{"sp":"LP","m":"Reference","yr":7,"v":0},{"sp":"LP","m":"Reference","yr":8,"v":0},{"sp":"LP","m":"Reference","yr":9,"v":0},{"sp":"LP","m":"Reference","yr":10,"v":0},{"sp":"LP","m":"Reference","yr":11,"v":0},{"sp":"LP","m":"Reference","yr":12,"v":0},{"sp":"LP","m":"Reference","yr":13,"v":0.6},{"sp":"LP","m":"Reference","yr":14,"v":0.85},{"sp":"LP","m":"Reference","yr":15,"v":0},{"sp":"LP","m":"Reference","yr":16,"v":0},{"sp":"LP","m":"Reference","yr":17,"v":0},{"sp":"LP","m":"Reference","yr":18,"v":0},{"sp":"LP","m":"Reference","yr":19,"v":0},{"sp":"LP","m":"Reference","yr":20,"v":0},{"sp":"LP","m":"Reference","yr":21,"v":0},{"sp":"LP","m":"Reference","yr":22,"v":0},{"sp":"LP","m":"Reference","yr":23,"v":0},{"sp":"LP","m":"Reference","yr":24,"v":2.5},{"sp":"LP","m":"Reference","yr":25,"v":1.0},{"sp":"LP","m":"Reference","yr":26,"v":0},{"sp":"LP","m":"Reference","yr":27,"v":0},{"sp":"LP","m":"Reference","yr":28,"v":0.6},{"sp":"LP","m":"Reference","yr":29,"v":0.95},{"sp":"LP","m":"Reference","yr":30,"v":0},{"sp":"LP","m":"Reference","yr":31,"v":0},{"sp":"LP","m":"Reference","yr":32,"v":0},{"sp":"LP","m":"Reference","yr":33,"v":0},{"sp":"LP","m":"Reference","yr":34,"v":0.5},{"sp":"LP","m":"Reference","yr":35,"v":0.85},{"sp":"LP","m":"Reference","yr":36,"v":0},{"sp":"LP","m":"Reference","yr":37,"v":0},{"sp":"LP","m":"Reference","yr":38,"v":0},{"sp":"LP","m":"Reference","yr":39,"v":0},{"sp":"LP","m":"Reference","yr":40,"v":0},{"sp":"LP","m":"Reference","yr":41,"v":0},{"sp":"LP","m":"Reference","yr":42,"v":0},{"sp":"LP","m":"Reference","yr":43,"v":0.85},{"sp":"LP","m":"Reference","yr":44,"v":0.95},{"sp":"LP","m":"Reference","yr":45,"v":0},{"sp":"LP","m":"Reference","yr":46,"v":0},{"sp":"LP","m":"Reference","yr":47,"v":0},{"sp":"LP","m":"Reference","yr":48,"v":0},{"sp":"LP","m":"Reference","yr":49,"v":0},{"sp":"LP","m":"Reference","yr":50,"v":0.4},{"sp":"LP","m":"Reference","yr":51,"v":0},{"sp":"LP","m":"Reference","yr":52,"v":0},{"sp":"LP","m":"Reference","yr":53,"v":0},{"sp":"LP","m":"Reference","yr":54,"v":3.5},{"sp":"LP","m":"Reference","yr":55,"v":2.25},{"sp":"LP","m":"Reference","yr":56,"v":1.0},{"sp":"LP","m":"Reference","yr":57,"v":0.6},{"sp":"LP","m":"Reference","yr":58,"v":1.5},{"sp":"LP","m":"Reference","yr":59,"v":1.95},{"sp":"LP","m":"Reference","yr":60,"v":0},{"sp":"LP","m":"Reference","yr":61,"v":0},{"sp":"LP","m":"Reference","yr":62,"v":0},{"sp":"LP","m":"Reference","yr":63,"v":0.5},{"sp":"LP","m":"Reference","yr":64,"v":0},{"sp":"LP","m":"Reference","yr":65,"v":1.0},{"sp":"LP","m":"Reference","yr":66,"v":0},{"sp":"LP","m":"Reference","yr":67,"v":0},{"sp":"LP","m":"Reference","yr":68,"v":0},{"sp":"LP","m":"Reference","yr":69,"v":0},{"sp":"LP","m":"Reference","yr":70,"v":0},{"sp":"LP","m":"Reference","yr":71,"v":0},{"sp":"LP","m":"Reference","yr":72,"v":1.5},{"sp":"LP","m":"Reference","yr":73,"v":0},{"sp":"LP","m":"Reference","yr":74,"v":1.7},{"sp":"LP","m":"Reference","yr":75,"v":0},{"sp":"LP","m":"Reference","yr":76,"v":0},{"sp":"LP","m":"Reference","yr":77,"v":0},{"sp":"LP","m":"Reference","yr":78,"v":0},{"sp":"LP","m":"Reference","yr":79,"v":0},{"sp":"LP","m":"Reference","yr":80,"v":0.5},{"sp":"LP","m":"Reference","yr":81,"v":0},{"sp":"LP","m":"Reference","yr":82,"v":0},{"sp":"LP","m":"Reference","yr":83,"v":0},{"sp":"LP","m":"Reference","yr":84,"v":4.25},{"sp":"LP","m":"Reference","yr":85,"v":2.6},{"sp":"LP","m":"Reference","yr":86,"v":0.95},{"sp":"LP","m":"Reference","yr":87,"v":0},{"sp":"LP","m":"Reference","yr":88,"v":2.1},{"sp":"LP","m":"Reference","yr":89,"v":2.35},{"sp":"LP","m":"Reference","yr":90,"v":0},{"sp":"LP","m":"Reference","yr":91,"v":0},{"sp":"LP","m":"Reference","yr":92,"v":0},{"sp":"LP","m":"Reference","yr":93,"v":0},{"sp":"LP","m":"Reference","yr":94,"v":0.6},{"sp":"LP","m":"Reference","yr":95,"v":1.75},{"sp":"LP","m":"Reference","yr":96,"v":0},{"sp":"LP","m":"Reference","yr":97,"v":1.0},{"sp":"LP","m":"Reference","yr":98,"v":0},{"sp":"LP","m":"Reference","yr":99,"v":0},{"sp":"LP","m":"Reference","yr":100,"v":0}
]
},
"columns": 2,
"align": "each",
"spacing": {"row": 14, "column": 21},
"concat": [
{
 "width": 288, "height": 192,
 "title": {"text": "Douglas-fir start age 1"},
 "layer": [
  {"data": {"name": "crf"}, "transform": [{"filter": "datum.sp === 'DF'"}],
   "mark": {"type": "line", "strokeJoin": "round"},
   "encoding": {
    "x": {"field": "yr", "type": "quantitative", "scale": {"domain": [0, 100], "nice": false}, "axis": null},
    "y": {"field": "v", "type": "quantitative", "scale": {"domain": [-0.5, 0.5], "nice": false}, "axis": {"values": [-0.5, -0.25, 0, 0.25, 0.5], "labelExpr": "'' + datum.value", "title": "Climate Response Factor (CRF)", "titleX": -59, "titleBaseline": "middle"}},
    "color": {"field": "m", "type": "nominal", "scale": {"domain": ["HadGem2", "CanESM2", "Reference"], "range": ["#000000", "#808080", "#5b9bd5"]}, "legend": null},
    "strokeDash": {"field": "m", "type": "nominal", "scale": {"domain": ["HadGem2", "CanESM2", "Reference"], "range": [[2, 2.5], [1, 0], [1, 0]]}, "legend": null},
    "strokeWidth": {"condition": {"test": "datum.m === 'CanESM2'", "value": 1.3}, "value": 2}
   }},
  {"data": {"values": [{"label": "A."}]}, "mark": {"type": "text", "align": "left", "baseline": "middle", "fontSize": 17, "color": "#111"},
   "encoding": {"x": {"datum": 2}, "y": {"datum": 0.44}, "text": {"field": "label"}}}
 ]
},
{
 "width": 288, "height": 192,
 "title": {"text": "Lodgepole pine start age 1"},
 "data": {"name": "crf"}, "transform": [{"filter": "datum.sp === 'LP'"}],
 "mark": {"type": "line", "strokeJoin": "round"},
 "encoding": {
  "x": {"field": "yr", "type": "quantitative", "scale": {"domain": [0, 100], "nice": false}, "axis": null},
  "y": {"field": "v", "type": "quantitative", "scale": {"domain": [-0.5, 0.5], "nice": false}, "axis": {"values": [-0.5, -0.25, 0, 0.25, 0.5], "labels": false, "title": null}},
  "color": {"field": "m", "type": "nominal", "scale": {"domain": ["HadGem2", "CanESM2", "Reference"], "range": ["#000000", "#808080", "#5b9bd5"]}, "legend": null},
  "strokeDash": {"field": "m", "type": "nominal", "scale": {"domain": ["HadGem2", "CanESM2", "Reference"], "range": [[2, 2.5], [1, 0], [1, 0]]}, "legend": null},
  "strokeWidth": {"condition": {"test": "datum.m === 'CanESM2'", "value": 1.3}, "value": 2}
 }
},
{
 "width": 288, "height": 186,
 "layer": [
  {"data": {"name": "bio"}, "transform": [{"filter": "datum.sp === 'DF'"}],
   "mark": {"type": "line", "strokeJoin": "round"},
   "encoding": {
    "x": {"field": "yr", "type": "quantitative", "scale": {"domain": [0, 100], "nice": false}, "axis": {"values": [0, 20, 40, 60, 80, 100], "labels": false, "title": null}},
    "y": {"field": "v", "type": "quantitative", "scale": {"domain": [0, 200], "nice": false}, "axis": {"values": [0, 50, 100, 150, 200], "title": "Stemwood Biomass (t ha-1)", "titleX": -59, "titleBaseline": "middle"}},
    "color": {"field": "m", "type": "nominal", "scale": {"domain": ["HadGem2", "CanESM2", "Reference"], "range": ["#000000", "#808080", "#5b9bd5"]},
      "legend": {"title": null, "orient": "none", "legendX": 50, "legendY": 2, "symbolType": "stroke", "symbolSize": 1225, "symbolStrokeWidth": 2, "labelFontSize": 14, "labelColor": "#222", "labelOffset": 3, "rowPadding": 1}},
    "strokeDash": {"field": "m", "type": "nominal", "scale": {"domain": ["HadGem2", "CanESM2", "Reference"], "range": [[2, 2.5], [1, 0], [1, 0]]},
      "legend": {"title": null, "orient": "none", "legendX": 50, "legendY": 2, "symbolType": "stroke", "symbolSize": 1225, "symbolStrokeWidth": 2, "labelFontSize": 14, "labelColor": "#222", "labelOffset": 3, "rowPadding": 1}},
    "strokeWidth": {"condition": {"test": "datum.m === 'CanESM2'", "value": 1.3}, "value": 2}
   }},
  {"data": {"values": [{"label": "B."}]}, "mark": {"type": "text", "align": "left", "baseline": "middle", "fontSize": 17, "color": "#111"},
   "encoding": {"x": {"datum": 2}, "y": {"datum": 186}, "text": {"field": "label"}}}
 ]
},
{
 "width": 288, "height": 186,
 "data": {"name": "bio"}, "transform": [{"filter": "datum.sp === 'LP'"}],
 "mark": {"type": "line", "strokeJoin": "round"},
 "encoding": {
  "x": {"field": "yr", "type": "quantitative", "scale": {"domain": [0, 100], "nice": false}, "axis": {"values": [0, 20, 40, 60, 80, 100], "labels": false, "title": null}},
  "y": {"field": "v", "type": "quantitative", "scale": {"domain": [0, 200], "nice": false}, "axis": {"values": [0, 50, 100, 150, 200], "labels": false, "title": null}},
  "color": {"field": "m", "type": "nominal", "scale": {"domain": ["HadGem2", "CanESM2", "Reference"], "range": ["#000000", "#808080", "#5b9bd5"]}, "legend": null},
  "strokeDash": {"field": "m", "type": "nominal", "scale": {"domain": ["HadGem2", "CanESM2", "Reference"], "range": [[2, 2.5], [1, 0], [1, 0]]}, "legend": null},
  "strokeWidth": {"condition": {"test": "datum.m === 'CanESM2'", "value": 1.3}, "value": 2}
 }
},
{
 "width": 288, "height": 167,
 "layer": [
  {"data": {"name": "mort"}, "transform": [{"filter": "datum.sp === 'DF'"}],
   "mark": {"type": "point", "filled": false, "strokeWidth": 1.6, "opacity": 1},
   "encoding": {
    "x": {"field": "yr", "type": "quantitative", "scale": {"domain": [0, 100], "nice": false}, "axis": {"values": [0, 20, 40, 60, 80, 100], "title": "Simulation Year", "ticks": false, "labelPadding": 12, "titlePadding": 9}},
    "y": {"field": "v", "type": "quantitative", "scale": {"domain": [0, 12], "nice": false}, "axis": {"values": [0, 4, 8, 12], "labelExpr": "datum.value + '%'", "title": "Drought Mortality Rate", "titleX": -59, "titleBaseline": "middle"}},
    "shape": {"field": "m", "type": "nominal", "scale": {"domain": ["HadGem2", "CanESM2", "Reference"], "range": ["square", "triangle-up", "diamond"]},
      "legend": {"title": null, "orient": "none", "legendX": 212, "legendY": 0, "symbolSize": 60, "symbolStrokeWidth": 1.6, "labelFontSize": 14, "labelColor": "#222", "labelOffset": 0, "rowPadding": 7}},
    "color": {"field": "m", "type": "nominal", "scale": {"domain": ["HadGem2", "CanESM2", "Reference"], "range": ["#000000", "#808080", "#5b93d3"]},
      "legend": {"title": null, "orient": "none", "legendX": 212, "legendY": 0, "symbolSize": 60, "symbolStrokeWidth": 1.6, "labelFontSize": 14, "labelColor": "#222", "labelOffset": 0, "rowPadding": 7}},
    "fill": {"field": "m", "type": "nominal", "scale": {"domain": ["HadGem2", "CanESM2", "Reference"], "range": ["transparent", "transparent", "#5b93d3"]},
      "legend": {"title": null, "orient": "none", "legendX": 212, "legendY": 0, "symbolSize": 60, "symbolStrokeWidth": 1.6, "labelFontSize": 14, "labelColor": "#222", "labelOffset": 0, "rowPadding": 7}},
    "size": {"condition": [{"test": "datum.m === 'Reference'", "value": 75}, {"test": "datum.m === 'CanESM2'", "value": 55}], "value": 50}
   }},
  {"data": {"values": [{"label": "C."}]}, "mark": {"type": "text", "align": "left", "baseline": "middle", "fontSize": 17, "color": "#111"},
   "encoding": {"x": {"datum": 2}, "y": {"datum": 11.2}, "text": {"field": "label"}}}
 ]
},
{
 "width": 288, "height": 167,
 "data": {"name": "mort"}, "transform": [{"filter": "datum.sp === 'LP'"}],
 "mark": {"type": "point", "filled": false, "strokeWidth": 1.6, "opacity": 1},
 "encoding": {
  "x": {"field": "yr", "type": "quantitative", "scale": {"domain": [0, 100], "nice": false}, "axis": {"values": [0, 20, 40, 60, 80, 100], "title": "Simulation Year", "ticks": false, "labelPadding": 12, "titlePadding": 9}},
  "y": {"field": "v", "type": "quantitative", "scale": {"domain": [0, 12], "nice": false}, "axis": {"values": [0, 4, 8, 12], "labels": false, "title": null}},
  "shape": {"field": "m", "type": "nominal", "scale": {"domain": ["HadGem2", "CanESM2", "Reference"], "range": ["square", "triangle-up", "diamond"]}, "legend": null},
  "color": {"field": "m", "type": "nominal", "scale": {"domain": ["HadGem2", "CanESM2", "Reference"], "range": ["#000000", "#808080", "#5b93d3"]}, "legend": null},
  "fill": {"field": "m", "type": "nominal", "scale": {"domain": ["HadGem2", "CanESM2", "Reference"], "range": ["transparent", "transparent", "#5b93d3"]}, "legend": null},
  "size": {"condition": [{"test": "datum.m === 'Reference'", "value": 75}, {"test": "datum.m === 'CanESM2'", "value": 55}], "value": 50}
 }
}
],
"resolve": {
  "scale": {"x": "independent", "y": "independent", "color": "independent", "strokeDash": "independent", "shape": "independent", "fill": "independent"},
  "legend": {"color": "independent", "strokeDash": "independent", "shape": "independent", "fill": "independent"}
}
}
